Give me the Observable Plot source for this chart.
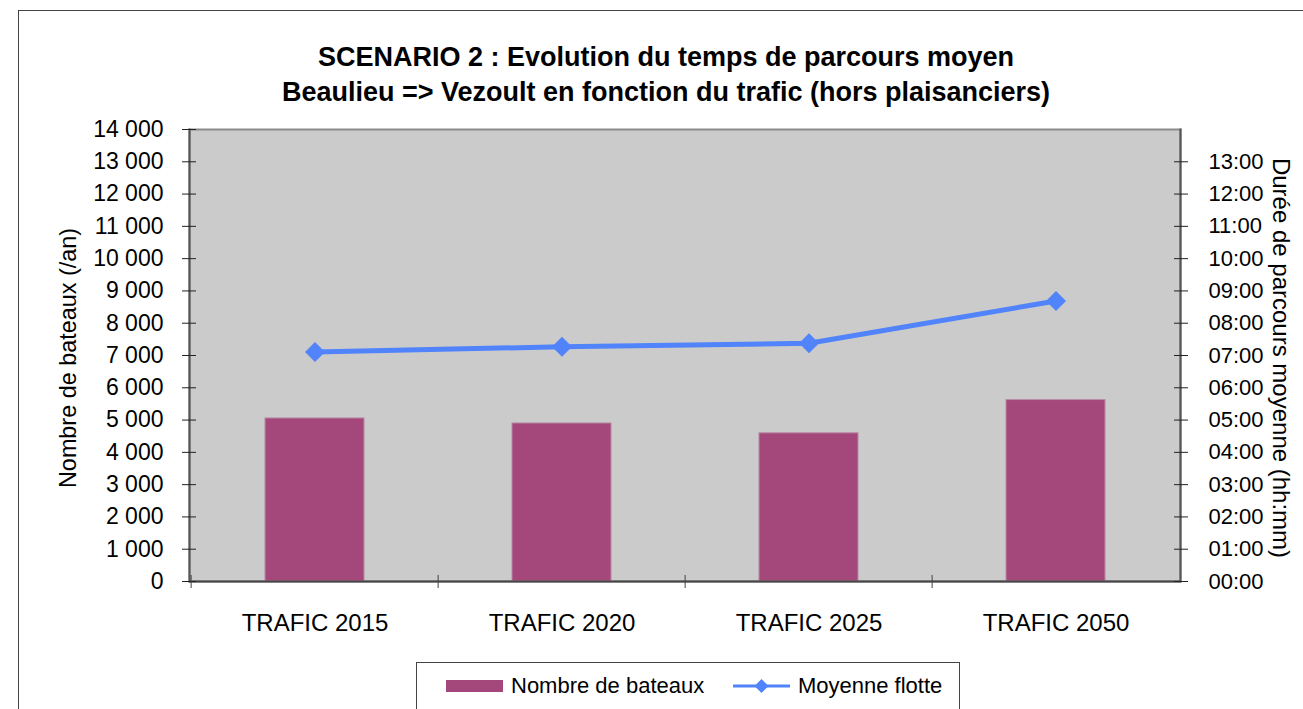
<!DOCTYPE html>
<html><head><meta charset="utf-8">
<script src="https://cdn.jsdelivr.net/npm/d3@7"></script>
<script src="https://cdn.jsdelivr.net/npm/@observablehq/plot@0.6"></script>
<style>
body{margin:0;background:#fff;font-family:"Liberation Sans",Arial,sans-serif;overflow:hidden}
#wrap{position:relative;width:1303px;height:709px;overflow:hidden}
#border{position:absolute;left:18px;top:10px;width:1400px;height:800px;border:1px solid #444}
#chart{position:absolute;left:0;top:0}
#title{position:absolute;left:0;top:40px;width:1332px;text-align:center;font-weight:bold;font-size:27px;line-height:35px;color:#000}
#legend{position:absolute;left:416px;top:662px;width:542px;height:46px;border:1px solid #444;background:#fff;font-size:22px;color:#000}
.item{position:absolute;top:10px;display:flex;align-items:center;height:26px;white-space:nowrap}
.ylab{position:absolute;white-space:nowrap;color:#000;transform-origin:center center}
</style></head>
<body>
<div id="wrap">
<div id="border"></div>
<div id="chart"></div>
<div id="title">SCENARIO 2 : Evolution du temps de parcours moyen<br>Beaulieu =&gt; Vezoult en fonction du trafic (hors plaisanciers)</div>
<div class="ylab" id="ylabL" style="font-size:23.4px;left:68px;top:358px;transform:translate(-50%,-50%) rotate(-90deg)">Nombre de bateaux (/an)</div>
<div class="ylab" id="ylabR" style="font-size:24px;left:1281px;top:358px;transform:translate(-50%,-50%) rotate(90deg)">Durée de parcours moyenne (hh:mm)</div>
<div id="legend">
  <div class="item" style="left:29px"><svg width="58" height="14" style="margin-right:7px"><rect x="0" y="1" width="57" height="12" fill="#a4477a"/></svg><span>Nombre de bateaux</span></div>
  <div class="item" style="left:316px"><svg width="58" height="20" style="margin-right:7px"><line x1="0" y1="10" x2="57" y2="10" stroke="#5183fb" stroke-width="3"/><path d="M28.5,3 L35.5,10 L28.5,17 L21.5,10 Z" fill="#5183fb"/></svg><span>Moyenne flotte</span></div>
</div>
</div>
<script>
const categories = ["TRAFIC 2015", "TRAFIC 2020", "TRAFIC 2025", "TRAFIC 2050"];
const bateaux = [5050, 4895, 4590, 5620];
const dureeHeures = [7.11, 7.27, 7.38, 8.69];
const leftTicks = d3.range(0, 14001, 1000);
const rightTicksHours = d3.range(0, 14, 1);

const data = categories.map((c, i) => ({cat: c, n: bateaux[i], h: dureeHeures[i] * 1000}));
const fmtNum = d => d3.format(",")(d).replace(/,/g, "\u00a0");
const fmtHour = d => String(Math.round(d / 1000)).padStart(2, "0") + ":00";

const W = 1303, ML = 189, MR = 123;
const halfStep = (W - ML - MR) / categories.length / 2;

const chart = Plot.plot({
  width: W,
  height: 709,
  marginLeft: ML,
  marginRight: MR,
  marginTop: 129,
  marginBottom: 128,
  style: {fontFamily: "Liberation Sans, Arial, sans-serif", fontSize: "22px", color: "#000", background: "transparent"},
  x: {domain: categories, paddingInner: 0.6, paddingOuter: 0.3, label: null},
  y: {domain: [0, 14000], label: null},
  marks: [
    Plot.frame({fill: "#cbcbcb", stroke: "#8a8a8a", strokeWidth: 2}),
    Plot.barY(data, {x: "cat", y: "n", fill: "#a4477a", stroke: "#b88aa3", strokeWidth: 1}),
    Plot.ruleY([0], {stroke: "#444", strokeWidth: 2}),
    Plot.frame({anchor: "left", stroke: "#555", strokeWidth: 2}),
    Plot.frame({anchor: "right", stroke: "#555", strokeWidth: 2}),
    Plot.axisY({anchor: "left", ticks: leftTicks, tickSize: 7, tickPadding: 19, tickFormat: fmtNum, fontSize: 23, label: null, stroke: "#222"}),
    Plot.axisY({anchor: "left", ticks: leftTicks, tickSize: -7, tickFormat: () => "", label: null, stroke: "#222"}),
    Plot.axisY({anchor: "right", ticks: rightTicksHours.map(h => h * 1000), tickSize: 7, tickPadding: 21, tickFormat: fmtHour, fontSize: 22, label: null, stroke: "#222"}),
    Plot.axisY({anchor: "right", ticks: rightTicksHours.map(h => h * 1000), tickSize: -7, tickFormat: () => "", label: null, stroke: "#222"}),
    Plot.axisX({anchor: "bottom", ticks: categories, tickSize: 13, dx: -halfStep, dy: -6, tickFormat: () => "", label: null, stroke: "#444"}),
    Plot.axisX({anchor: "bottom", tickSize: 0, tickPadding: 32, fontSize: 24, label: null}),
    Plot.line(data, {x: "cat", y: "h", stroke: "#5183fb", strokeWidth: 5}),
    Plot.dot(data, {x: "cat", y: "h", symbol: "diamond2", r: 9, fill: "#5183fb"})
  ]
});
document.getElementById("chart").append(chart);
</script>
</body></html>
